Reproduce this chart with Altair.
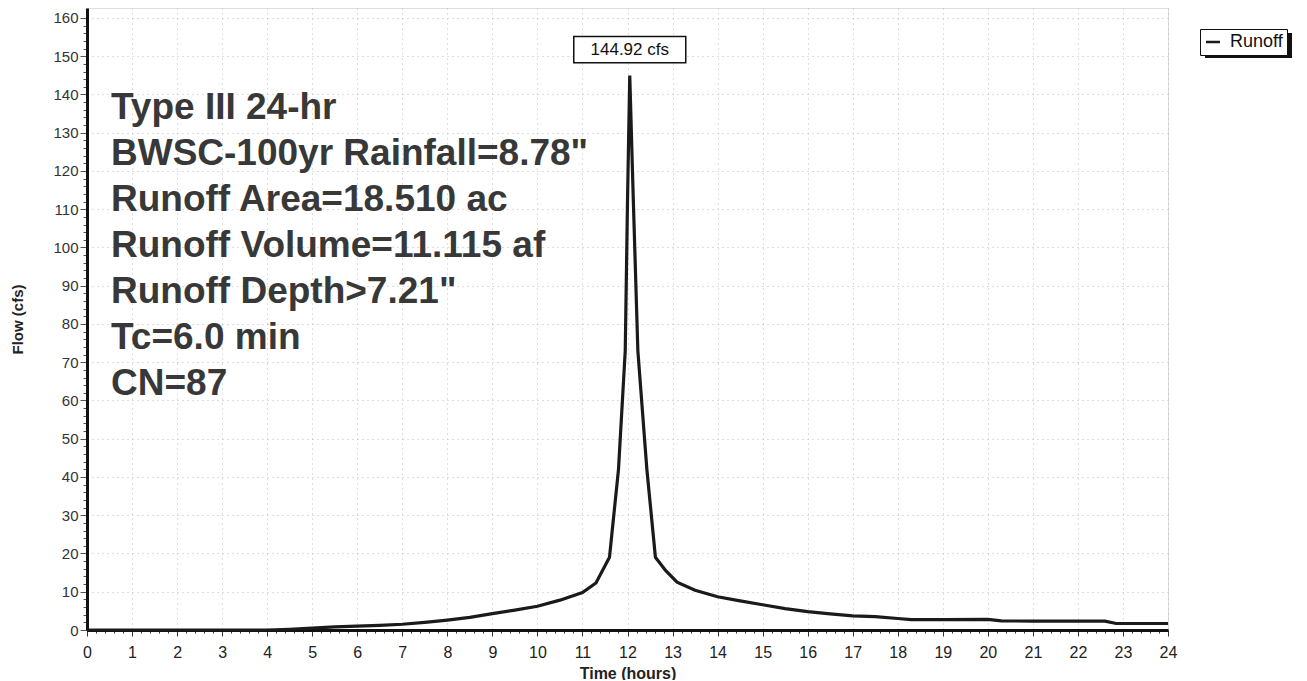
import altair as alt
import pandas as pd

# Hydrograph values
time_hr = [0, 4.0, 4.5, 5.0, 5.5, 6.0, 6.5, 7.0, 7.5, 8.0, 8.5, 9.0, 9.5, 10.0, 10.5,
           11.0, 11.3, 11.6, 11.8, 11.95, 12.0, 12.05, 12.13, 12.23, 12.43, 12.62,
           12.85, 13.1, 13.5, 14.0, 14.5, 15.0, 15.5, 16.0, 16.5, 17.0, 17.5, 18.0,
           18.3, 19.0, 20.0, 20.3, 21.0, 22.0, 22.6, 22.85, 24.0]
flow_cfs = [0, 0.0, 0.2, 0.5, 0.8, 1.0, 1.2, 1.5, 2.0, 2.6, 3.3, 4.3, 5.2, 6.2, 7.8,
            9.8, 12.3, 19.0, 42.0, 73.0, 112.0, 144.92, 112.0, 73.0, 42.0, 19.0,
            15.5, 12.5, 10.4, 8.7, 7.6, 6.6, 5.6, 4.8, 4.2, 3.7, 3.5, 3.0,
            2.7, 2.7, 2.8, 2.4, 2.3, 2.3, 2.3, 1.7, 1.7]
series_name = ["Runoff"]
peak_time = [12.05]
peak_flow = [144.92]
peak_label = ["144.92 cfs"]
info_lines = ["Type III 24-hr", "BWSC-100yr Rainfall=8.78\"", "Runoff Area=18.510 ac",
              "Runoff Volume=11.115 af", "Runoff Depth>7.21\"", "Tc=6.0 min", "CN=87"]
x_ticks = [i / 5 for i in range(121)]
y_ticks = list(range(0, 161, 2))

df = pd.DataFrame({"t": time_hr, "q": flow_cfs, "s": series_name[0]})
peak_df = pd.DataFrame({"t": peak_time, "q": peak_flow, "label": peak_label})

FONT = "Liberation Sans"
xs = alt.Scale(domain=[0, 24], nice=False)
ys = alt.Scale(domain=[0, 162.6], nice=False)

XINT = "abs(datum.value - round(datum.value)) < 0.001"
x_axis = alt.Axis(
    title="Time (hours)", values=x_ticks, tickCount=500, labelOverlap=False, labelFlush=False,
    labelExpr=XINT + " ? format(datum.value, 'd') : ''",
    tickSize={"condition": {"test": XINT, "value": 6}, "value": 3},
    gridOpacity={"condition": {"test": XINT, "value": 1}, "value": 0},
    labelPadding=8, labelFontSize=16, labelColor="#222", labelFont=FONT,
    titleFont=FONT, titleFontSize=16, titleFontWeight="bold", titleColor="#222",
    titlePadding=5, domainWidth=3, domainColor="#111", tickColor="#333",
    grid=True, gridDash=[1, 4], gridColor="#bdbdbd",
)
y_axis = alt.Axis(
    title="Flow (cfs)", values=y_ticks, tickCount=500, labelOverlap=False, labelFlush=False,
    labelExpr="datum.value % 10 === 0 ? format(datum.value, 'd') : ''",
    tickSize={"condition": {"test": "datum.value % 10 === 0", "value": 7}, "value": 4},
    gridOpacity={"condition": {"test": "datum.value % 10 === 0 && datum.value > 0", "value": 1}, "value": 0},
    labelPadding=2, labelFontSize=15, labelColor="#333", labelFont=FONT,
    titleFont=FONT, titleFontSize=15, titleFontWeight="bold", titleColor="#222",
    titlePadding=27, domainWidth=3, domainColor="#111", tickColor="#555",
    grid=True, gridDash=[1, 4], gridColor="#bdbdbd",
)

line = alt.Chart(df).mark_line(strokeWidth=3.2, interpolate="linear").encode(
    x=alt.X("t:Q", scale=xs, axis=x_axis),
    y=alt.Y("q:Q", scale=ys, axis=y_axis),
    color=alt.Color("s:N", scale=alt.Scale(range=["#1a1a1a"]), legend=alt.Legend(
        title=None, orient="none", legendX=1113, legendY=21, strokeColor="#111",
        fillColor="white", padding=4, symbolType="stroke", symbolStrokeWidth=2.5,
        symbolSize=196, labelFontSize=18, labelFont=FONT, labelColor="#111",
        labelOffset=8, symbolOffset=0)),
)

shadow = alt.Chart(pd.DataFrame({"s": series_name})).mark_rect(color="#111").encode(
    x=alt.value(1118), x2=alt.value(1205), y=alt.value(25), y2=alt.value(50),
)

box = alt.Chart(peak_df).mark_point(
    shape="M-1,-0.235L1,-0.235L1,0.235L-1,0.235Z", size=12544, filled=True,
    fill="white", stroke="#111", strokeWidth=1.5, opacity=1, yOffset=-26,
).encode(x=alt.X("t:Q", scale=xs), y=alt.Y("q:Q", scale=ys))

peak_text = alt.Chart(peak_df).mark_text(
    font=FONT, fontSize=17, color="#111", yOffset=-26, baseline="middle", align="center",
).encode(x=alt.X("t:Q", scale=xs), y=alt.Y("q:Q", scale=ys), text="label:N")

info = alt.Chart(pd.DataFrame({"s": series_name})).mark_text(
    font=FONT, fontSize=37, fontWeight="bold", color="#383838", align="left",
    baseline="alphabetic", lineHeight=46,
).encode(x=alt.value(24), y=alt.value(111), text=alt.value(info_lines))

chart = alt.layer(line, shadow, box, peak_text, info).properties(
    width=1081, height=622,
    padding={"left": 79, "top": 0, "right": 130, "bottom": 50},
    autosize=alt.AutoSizeParams(type="none"),
).configure_view(stroke="#111", strokeWidth=2).configure(background="white")

chart.save("out.html", embed_options={"renderer": "svg", "actions": False})
